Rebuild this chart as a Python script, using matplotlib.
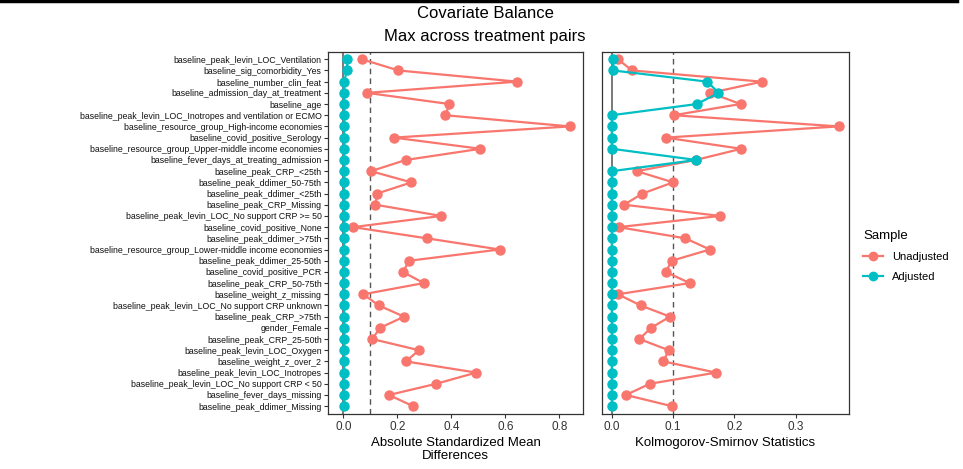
import numpy as np
import matplotlib
matplotlib.use("Agg")
import matplotlib.pyplot as plt
from matplotlib.lines import Line2D
from matplotlib import font_manager

plt.rcParams['font.family'] = ['Liberation Sans', 'DejaVu Sans']

covariates = [
    "baseline_peak_levin_LOC_Ventilation",
    "baseline_sig_comorbidity_Yes",
    "baseline_number_clin_feat",
    "baseline_admission_day_at_treatment",
    "baseline_age",
    "baseline_peak_levin_LOC_Inotropes and ventilation or ECMO",
    "baseline_resource_group_High-income economies",
    "baseline_covid_positive_Serology",
    "baseline_resource_group_Upper-middle income economies",
    "baseline_fever_days_at_treating_admission",
    "baseline_peak_CRP_<25th",
    "baseline_peak_ddimer_50-75th",
    "baseline_peak_ddimer_<25th",
    "baseline_peak_CRP_Missing",
    "baseline_peak_levin_LOC_No support CRP >= 50",
    "baseline_covid_positive_None",
    "baseline_peak_ddimer_>75th",
    "baseline_resource_group_Lower-middle income economies",
    "baseline_peak_ddimer_25-50th",
    "baseline_covid_positive_PCR",
    "baseline_peak_CRP_50-75th",
    "baseline_weight_z_missing",
    "baseline_peak_levin_LOC_No support CRP unknown",
    "baseline_peak_CRP_>75th",
    "gender_Female",
    "baseline_peak_CRP_25-50th",
    "baseline_peak_levin_LOC_Oxygen",
    "baseline_weight_z_over_2",
    "baseline_peak_levin_LOC_Inotropes",
    "baseline_peak_levin_LOC_No support CRP < 50",
    "baseline_fever_days_missing",
    "baseline_peak_ddimer_Missing",
]

smd_unadj = [0.069, 0.204, 0.645, 0.087, 0.393, 0.378, 0.839, 0.187, 0.508, 0.231,
             0.102, 0.252, 0.125, 0.119, 0.363, 0.036, 0.309, 0.579, 0.245, 0.220,
             0.298, 0.074, 0.131, 0.225, 0.136, 0.107, 0.280, 0.232, 0.492, 0.344,
             0.169, 0.258]
smd_adj = [0.015, 0.013] + [0.003] * 30

ks_unadj = [0.010, 0.033, 0.245, 0.161, 0.210, 0.101, 0.370, 0.088, 0.211, 0.137,
            0.041, 0.100, 0.050, 0.020, 0.177, 0.011, 0.120, 0.160, 0.098, 0.088,
            0.127, 0.010, 0.047, 0.095, 0.064, 0.045, 0.093, 0.084, 0.170, 0.062,
            0.023, 0.098]
ks_adj = [0.002, 0.002, 0.156, 0.174, 0.139, 0.0, 0.0, 0.0, 0.0, 0.138] + [0.0] * 22

red = '#F8766D'
cyan = '#00BFC4'

# narrow face for the long covariate names, if it is there
names = {f.name for f in font_manager.fontManager.ttflist}
if 'Liberation Sans Narrow' in names:
    label_font, label_size = 'Liberation Sans Narrow', 8.0
else:
    label_font, label_size = 'Liberation Sans', 6.3

W, H = 963, 469
fig = plt.figure(figsize=(W / 100, H / 100), dpi=100)

ax1 = fig.add_axes([328 / W, 1 - 414 / H, (583 - 328) / W, (414 - 52) / H])
ax2 = fig.add_axes([602 / W, 1 - 414 / H, (849 - 602) / W, (414 - 52) / H])

y = np.arange(len(covariates))

def panel(ax, unadj, adj, xlim, ticks):
    ax.axvline(0, color='#555555', lw=1.1, zorder=1)
    ax.axvline(0.1, color='#555555', lw=1.0, ls=(0, (4, 3)), zorder=1)
    ax.plot(unadj, y, color=red, lw=1.6, marker='o', ms=6.5, zorder=3)
    ax.plot(adj, y, color=cyan, lw=1.6, marker='o', ms=6.5, zorder=4)
    ax.set_xlim(*xlim)
    ax.set_ylim(len(covariates) - 0.3, -0.65)
    ax.set_xticks(ticks)
    ax.set_xticklabels(['%.1f' % t for t in ticks], fontsize=8.5, color='#333333')
    for s in ax.spines.values():
        s.set_color('#333333')
        s.set_linewidth(0.9)
    ax.tick_params(axis='x', length=3, color='#333333', pad=2)

panel(ax1, smd_unadj, smd_adj, (-0.057, 0.888), [0.0, 0.2, 0.4, 0.6, 0.8])
ax1.set_yticks(y)
ax1.set_yticklabels(covariates, fontsize=label_size, color='#111111',
                    family=[label_font, 'DejaVu Sans'])
ax1.tick_params(axis='y', length=3, color='#333333', pad=1.5)
ax1.set_xlabel('Absolute Standardized Mean\nDifferences', fontsize=9.5, labelpad=3, linespacing=1.1)

panel(ax2, ks_unadj, ks_adj, (-0.016, 0.387), [0.0, 0.1, 0.2, 0.3])
ax2.set_yticks([])
ax2.set_xlabel('Kolmogorov-Smirnov Statistics', fontsize=9.5, labelpad=3)

fig.text(485 / W, 1 - 14 / H, 'Covariate Balance', ha='center', va='center', fontsize=12)
fig.text(485 / W, 1 - 36 / H, 'Max across treatment pairs', ha='center', va='center', fontsize=12)

handles = [Line2D([], [], color=red, lw=1.6, marker='o', ms=6),
           Line2D([], [], color=cyan, lw=1.6, marker='o', ms=6)]
fig.legend(handles, ['Unadjusted', 'Adjusted'], title='Sample',
           loc='upper left', bbox_to_anchor=(853 / W, 1 - 220 / H),
           frameon=False, fontsize=8, title_fontsize=9.5, handlelength=1.8,
           labelspacing=0.9, alignment='left')

# screenshot frame line at top
fig.add_artist(Line2D([0, 957 / W], [1 - 1.5 / H, 1 - 1.5 / H], color='black', lw=2.5))

fig.savefig('out.png', dpi=100)
